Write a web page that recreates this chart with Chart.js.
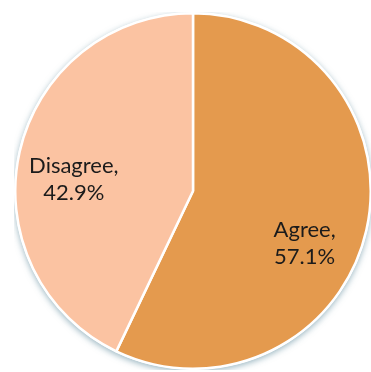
<!DOCTYPE html>
<html>
<head>
<meta charset="utf-8">
<script src="https://cdn.jsdelivr.net/npm/chart.js@4"></script>
<style>
    html, body { margin: 0; padding: 0; background: #fff; overflow: hidden; }
    #wrap { position: absolute; left: 14px; top: 12px; width: 358px; height: 358px; }
</style>
</head>
<body>
<div id="wrap"><canvas id="pieChart"></canvas></div>
<script>
// Survey answers
const labels = ['Agree', 'Disagree'];
const shares = [57.1, 42.9];
const colors = ['#E49A4E', '#FBC3A2'];

// Label nudges in px, one per slice
const labelNudge = [[-8, 25], [-3, 14]];
const labelRadius = [0.69, 0.67];

// Soft shadow under the whole pie
const pieShadow = {
    id: 'pieShadow',
    beforeDatasetsDraw(chart) {
        const arc = chart.getDatasetMeta(0).data[0];
        if (!arc) return;
        const c = chart.ctx;
        c.save();
        c.shadowColor = 'rgba(70, 120, 140, 0.55)';
        c.shadowBlur = 6;
        c.shadowOffsetY = 2;
        c.fillStyle = '#fff';
        c.beginPath();
        c.arc(arc.x, arc.y, arc.outerRadius + 1, 0, Math.PI * 2);
        c.fill();
        c.restore();
    }
};

// "Name,\nvalue%" text inside each slice
const sliceLabels = {
    id: 'sliceLabels',
    afterDatasetsDraw(chart) {
        const c = chart.ctx;
        const meta = chart.getDatasetMeta(0);
        c.save();
        c.font = '22px Lato, "DejaVu Sans", sans-serif';
        c.fillStyle = '#1b1b1b';
        c.textAlign = 'center';
        c.textBaseline = 'alphabetic';
        meta.data.forEach((arc, i) => {
            const mid = (arc.startAngle + arc.endAngle) / 2;
            const r = arc.outerRadius * labelRadius[i];
            const x = arc.x + Math.cos(mid) * r + labelNudge[i][0];
            const y = arc.y + Math.sin(mid) * r + labelNudge[i][1];
            c.fillText(labels[i] + ',', x, y - 6);
            c.fillText(shares[i].toFixed(1) + '%', x, y + 21);
        });
        c.restore();
    }
};

new Chart(document.getElementById('pieChart'), {
    type: 'pie',
    data: {
        labels: labels,
        datasets: [{
            data: shares,
            backgroundColor: colors,
            borderColor: '#ffffff',
            borderWidth: 2.5
        }]
    },
    options: {
        responsive: true,
        maintainAspectRatio: false,
        animation: false,
        layout: { padding: 0 },
        plugins: {
            legend: { display: false },
            tooltip: { enabled: false }
        }
    },
    plugins: [pieShadow, sliceLabels]
});
</script>
</body>
</html>
